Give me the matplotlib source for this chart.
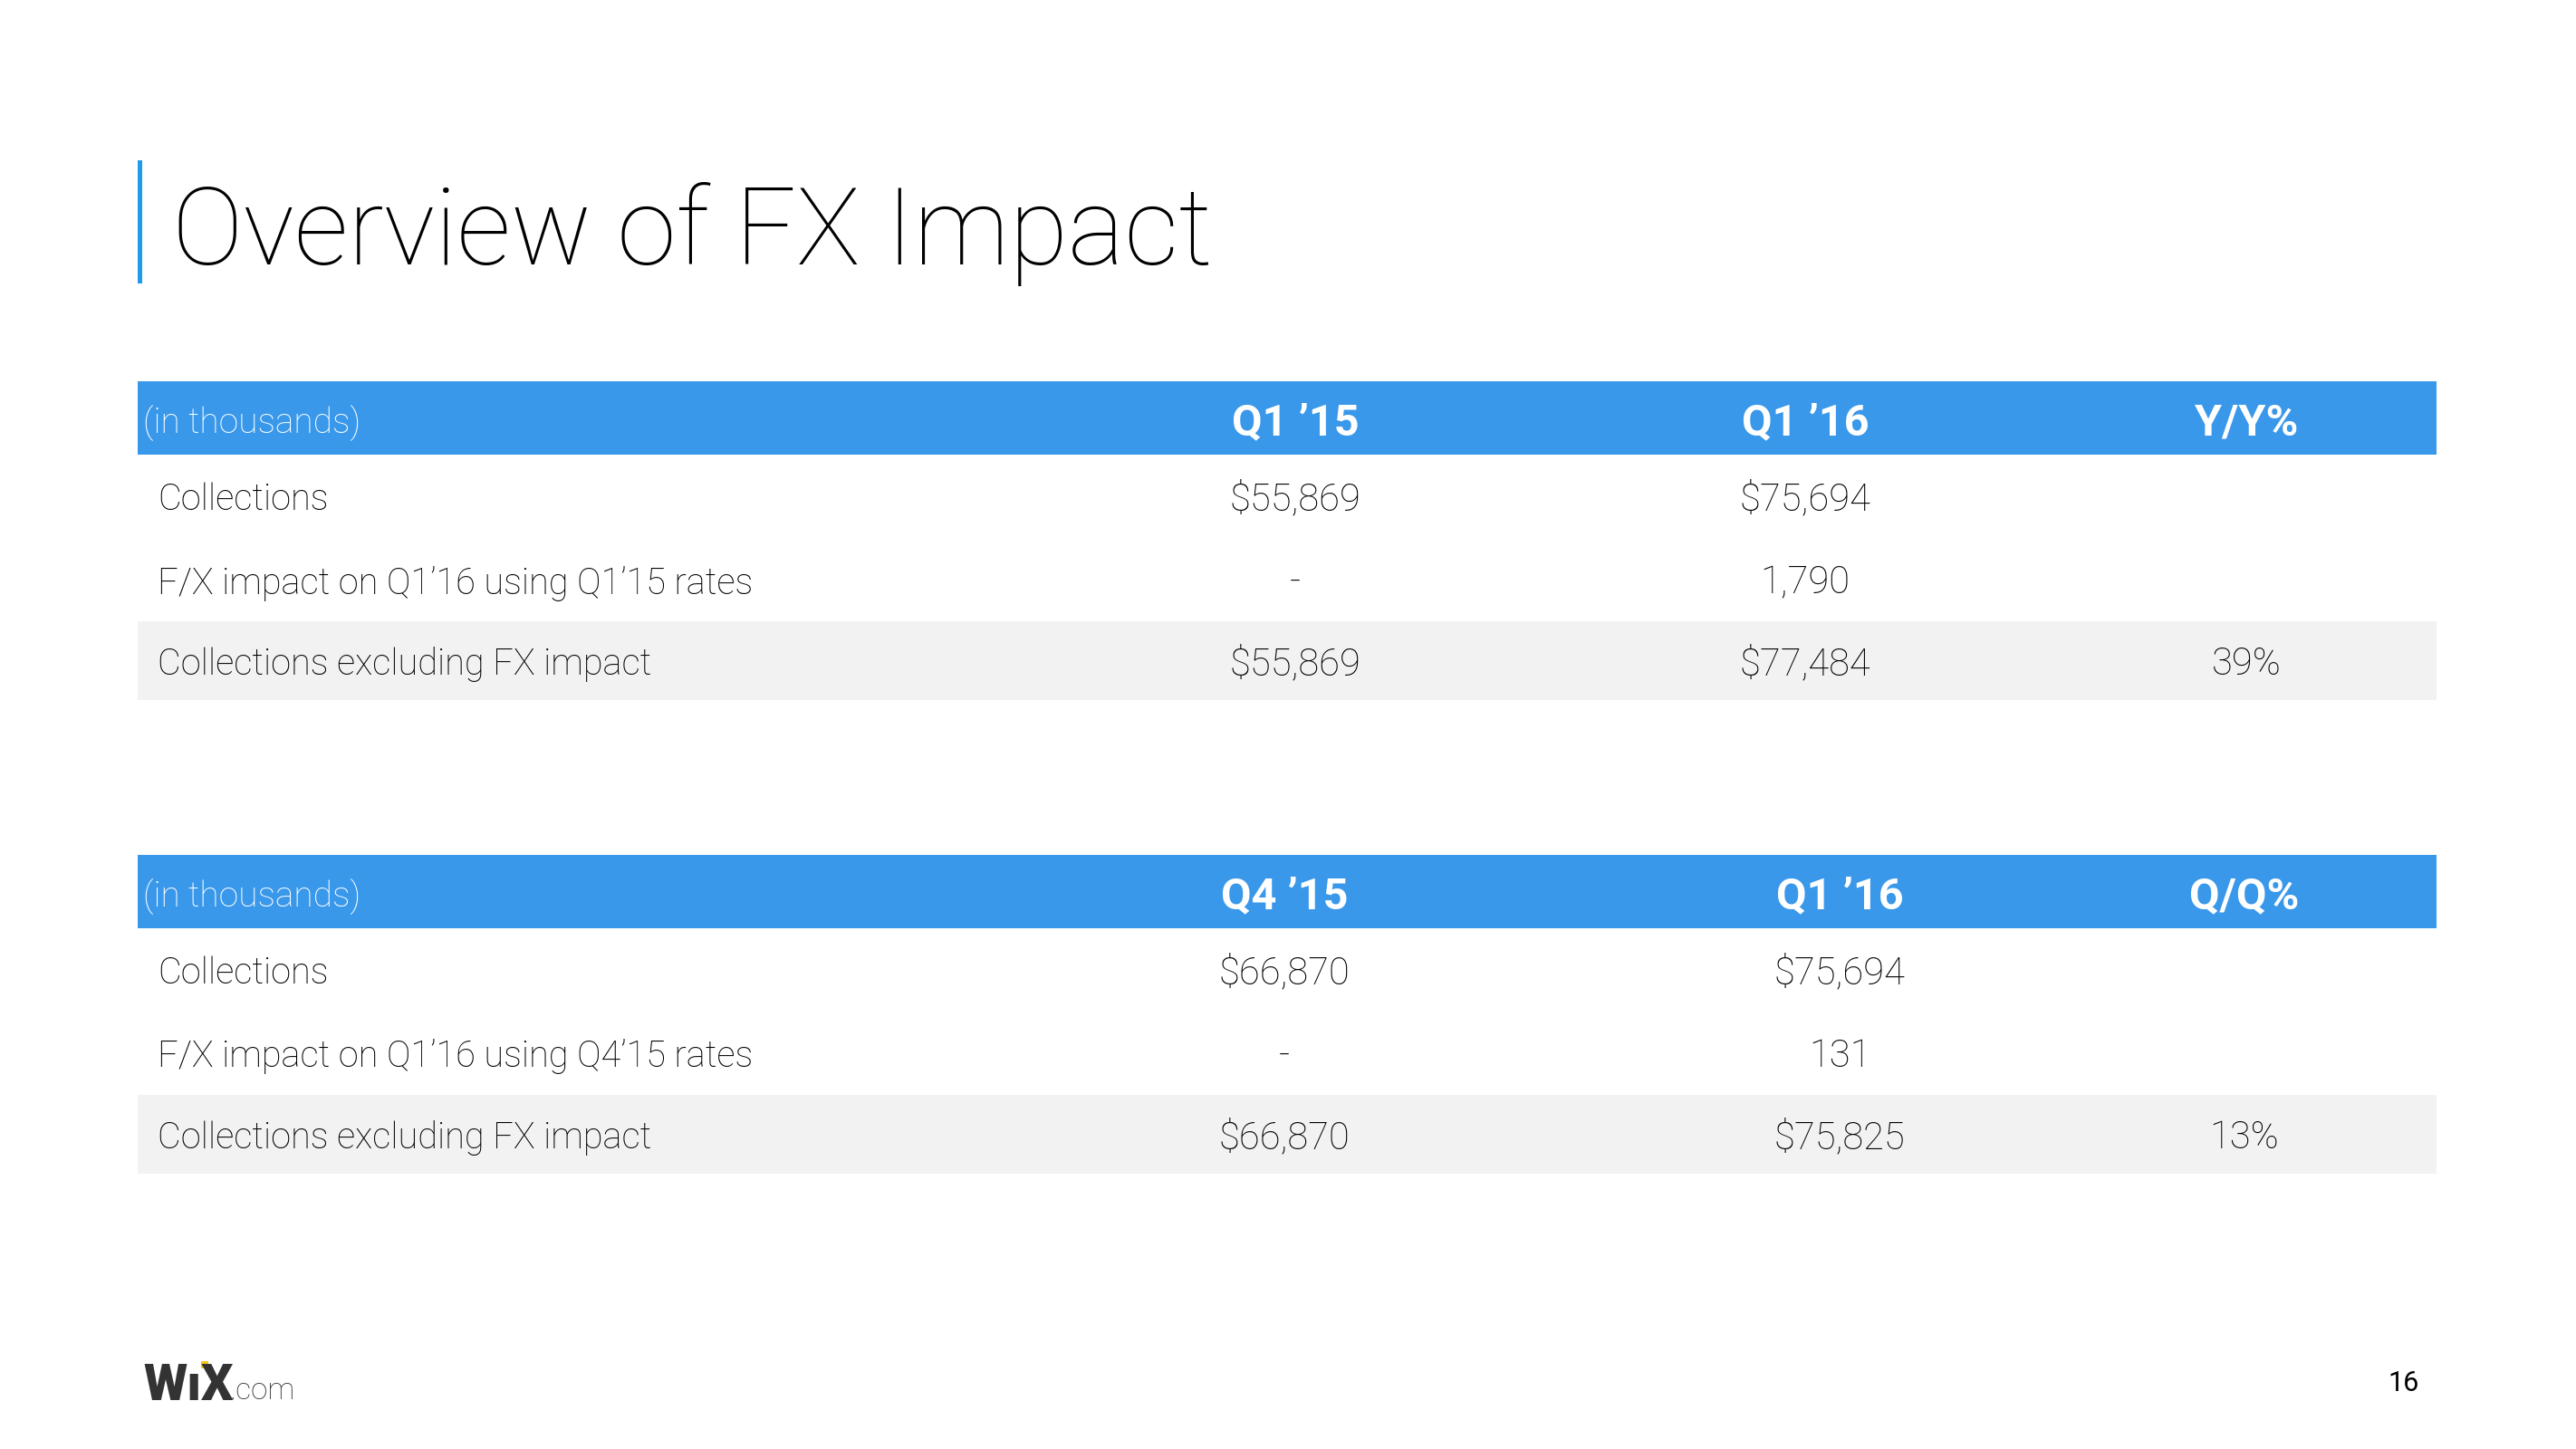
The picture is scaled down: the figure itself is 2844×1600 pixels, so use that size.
import matplotlib
matplotlib.use("Agg")
import matplotlib.pyplot as plt
from matplotlib.patches import Rectangle

# ---------------- data ----------------
title = "Overview of FX Impact"
unit_label = "(in thousands)"

t1_columns = ["Q1 \u201915", "Q1 \u201916", "Y/Y%"]
t1_rows = ["Collections", "F/X impact on Q1\u201916 using Q1\u201915 rates", "Collections excluding FX impact"]
t1_col_a = ["$55,869", "-", "$55,869"]
t1_col_b = ["$75,694", "1,790", "$77,484"]
t1_col_c = ["", "", "39%"]

t2_columns = ["Q4 \u201915", "Q1 \u201916", "Q/Q%"]
t2_rows = ["Collections", "F/X impact on Q1\u201916 using Q4\u201915 rates", "Collections excluding FX impact"]
t2_col_a = ["$66,870", "-", "$66,870"]
t2_col_b = ["$75,694", "131", "$75,825"]
t2_col_c = ["", "", "13%"]

page_number = "16"

# ---------------- style ----------------
W, H = 2844, 1600
BLUE_HEAD = "#3A98EA"
BLUE_BAR = "#1E9BEA"
GRAY_ROW = "#F2F2F2"
TEXT = "#000000"
FONT = ["Roboto", "Liberation Sans", "DejaVu Sans"]

fig = plt.figure(figsize=(W / 100, H / 100), dpi=100)
ax = fig.add_axes([0, 0, 1, 1])
ax.set_xlim(0, W)
ax.set_ylim(H, 0)
ax.axis("off")

# title
ax.add_patch(Rectangle((152, 177), 5, 136, color=BLUE_BAR, lw=0))
ax.text(190, 259, title, fontsize=85, family=FONT, fontweight="light",
        color=TEXT, va="center", ha="left")


def draw_table(top, columns, rows, cols, col_x):
    left, right = 152, 2690
    head_h = 81
    row_h = [92, 92, 87]
    ax.add_patch(Rectangle((left, top), right - left, head_h, color=BLUE_HEAD, lw=0))
    ax.text(158, top + head_h / 2 + 6, unit_label, fontsize=28, family=FONT,
            fontweight="light", color="white", va="center", ha="left")
    for cx, name in zip(col_x, columns):
        ax.text(cx, top + head_h / 2 + 6, name, fontsize=35, family=FONT,
                fontweight="bold", color="white", va="center", ha="center")
    y = top + head_h
    for i, label in enumerate(rows):
        h = row_h[i]
        if i == len(rows) - 1:
            ax.add_patch(Rectangle((left, y), right - left, h, color=GRAY_ROW, lw=0))
        cy = y + h / 2 + 4
        ax.text(174, cy, label, fontsize=28.6, family=FONT, fontweight="light",
                color=TEXT, va="center", ha="left")
        for cx, col in zip(col_x, cols):
            ax.text(cx, cy, col[i], fontsize=30, family=FONT, fontweight="light",
                    color=TEXT, va="center", ha="center")
        y += h


draw_table(421, t1_columns, t1_rows, [t1_col_a, t1_col_b, t1_col_c], [1430, 1993, 2480])
draw_table(944, t2_columns, t2_rows, [t2_col_a, t2_col_b, t2_col_c], [1418, 2031, 2478])

# logo
ax.text(158, 1530, "W\u0131X", fontsize=40, family=FONT, fontweight="heavy",
        color="#333333", va="center", ha="left")
ax.add_patch(Rectangle((222, 1503), 8, 8, color="#F5C518", lw=0))
ax.text(254, 1536, ".com", fontsize=24, family=FONT, fontweight="light",
        color="#333333", va="center", ha="left")

# page number
ax.text(2654, 1528, page_number, fontsize=22, family=FONT, color=TEXT,
        va="center", ha="center")

fig.savefig("out.png", dpi=100)
